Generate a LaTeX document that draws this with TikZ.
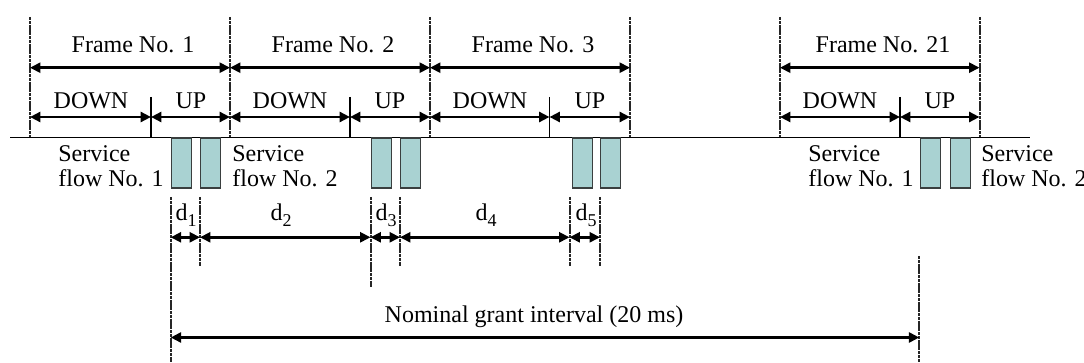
\documentclass[tikz,border=0pt]{standalone}
\usepackage{fontspec}
\setmainfont{Liberation Serif}
\usetikzlibrary{arrows.meta}
\definecolor{slotfill}{HTML}{A9D2D2}
\definecolor{slotline}{HTML}{3A3F3F}
\newcommand{\dsub}[1]{d\raisebox{-3pt}{\fontsize{9}{9}\selectfont #1}}
\begin{document}
\begin{tikzpicture}[x=0.5pt,y=-0.5pt,
  guide/.style={line width=1pt, dash pattern=on 1.6pt off 0.3pt, draw=black!85},
  tickline/.style={line width=0.9pt},
  dim/.style={line width=1.25pt, {Triangle[length=5.2pt,width=5pt]}-{Triangle[length=5.2pt,width=5pt]}},
  lbl/.style={font=\fontsize{12}{12.5}\selectfont, inner sep=0pt, anchor=base},
  flow/.style={font=\fontsize{12}{12.5}\selectfont, inner sep=0pt, align=left, anchor=base west},
  slot/.style={draw=slotline, fill=slotfill, line width=0.7pt, inner sep=0pt,
    minimum width=10pt, minimum height=25pt, anchor=north west}
]
\useasboundingbox (0,0) rectangle (1084,363);

% time axis
\coordinate (axL) at (10,137.5);
\coordinate (axR) at (1030,137.5);
\draw[line width=0.6pt] (axL) -- (axR);

% frame boundaries
\foreach \i/\x in {0/30,1/230,2/430,3/630,4/780,5/979.5} {
  \coordinate (b\i-top) at (\x,17);
  \coordinate (b\i-bot) at (\x,137.5);
  \coordinate (b\i-fr) at (\x,67.7);
  \coordinate (b\i-du) at (\x,117);
  \draw[guide] (b\i-top) -- (b\i-bot);
}

% DOWN/UP split ticks
\foreach \i/\x in {1/151,2/350,3/549.5,4/900} {
  \coordinate (t\i-top) at (\x,97);
  \coordinate (t\i-bot) at (\x,137.5);
  \coordinate (t\i-du) at (\x,117);
  \draw[tickline] (t\i-top) -- (t\i-bot);
}

% frame arrows and labels
\draw[dim] (b0-fr) -- (b1-fr);
\draw[dim] (b1-fr) -- (b2-fr);
\draw[dim] (b2-fr) -- (b3-fr);
\draw[dim] (b4-fr) -- (b5-fr);
\node[lbl] (f1) at (133,53) {Frame No. 1};
\node[lbl] (f2) at (333,53) {Frame No. 2};
\node[lbl] (f3) at (533,53) {Frame No. 3};
\node[lbl] (f21) at (883,53) {Frame No. 21};

% DOWN / UP arrows
\draw[dim] (b0-du) -- (t1-du);
\draw[dim] (t1-du) -- (b1-du);
\draw[dim] (b1-du) -- (t2-du);
\draw[dim] (t2-du) -- (b2-du);
\draw[dim] (b2-du) -- (t3-du);
\draw[dim] (t3-du) -- (b3-du);
\draw[dim] (b4-du) -- (t4-du);
\draw[dim] (t4-du) -- (b5-du);
\node[lbl] (dn1) at (91,109) {DOWN};
\node[lbl] (up1) at (191,109) {UP};
\node[lbl] (dn2) at (290,109) {DOWN};
\node[lbl] (up2) at (390,109) {UP};
\node[lbl] (dn3) at (490,109) {DOWN};
\node[lbl] (up3) at (590,109) {UP};
\node[lbl] (dn21) at (840,109) {DOWN};
\node[lbl] (up21) at (940,109) {UP};

% grant slots
\node[slot] (s1a) at (170.7,137.5) {};
\node[slot] (s1b) at (200,137.5) {};
\node[slot] (s2a) at (370.7,137.5) {};
\node[slot] (s2b) at (400,137.5) {};
\node[slot] (s3a) at (572,137.5) {};
\node[slot] (s3b) at (600,137.5) {};
\node[slot] (s4a) at (920,137.5) {};
\node[slot] (s4b) at (949.5,137.5) {};

% service flow labels (base = last line)
\node[flow] (sf1) at (58,187) {Service\\flow No. 1};
\node[flow] (sf2) at (232,187) {Service\\flow No. 2};
\node[flow] (sf3) at (808,187) {Service\\flow No. 1};
\node[flow] (sf4) at (981,187) {Service\\flow No. 2};

% delay markers
\foreach \i/\x/\ya/\yb in {1/170.7/197/362, 2/200/197/266, 3/370.5/197/287, 4/400/197/266, 5/569.5/197/266, 6/600/197/266, 7/919.3/256/362} {
  \coordinate (v\i-top) at (\x,\ya);
  \coordinate (v\i-bot) at (\x,\yb);
  \coordinate (v\i-d) at (\x,237.3);
  \coordinate (v\i-n) at (\x,337.5);
  \draw[guide] (v\i-top) -- (v\i-bot);
}
\draw[dim] (v1-d) -- (v2-d);
\draw[dim] (v2-d) -- (v3-d);
\draw[dim] (v3-d) -- (v4-d);
\draw[dim] (v4-d) -- (v5-d);
\draw[dim] (v5-d) -- (v6-d);
\node[lbl] (d1) at (186,221) {\dsub{1}};
\node[lbl] (d2) at (281,221) {\dsub{2}};
\node[lbl] (d3) at (386,221) {\dsub{3}};
\node[lbl] (d4) at (486,221) {\dsub{4}};
\node[lbl] (d5) at (586,221) {\dsub{5}};

% nominal grant interval
\draw[dim] (v1-n) -- (v7-n);
\node[lbl] (ngi) at (534,323) {Nominal grant interval (20 ms)};
\end{tikzpicture}
\end{document}
